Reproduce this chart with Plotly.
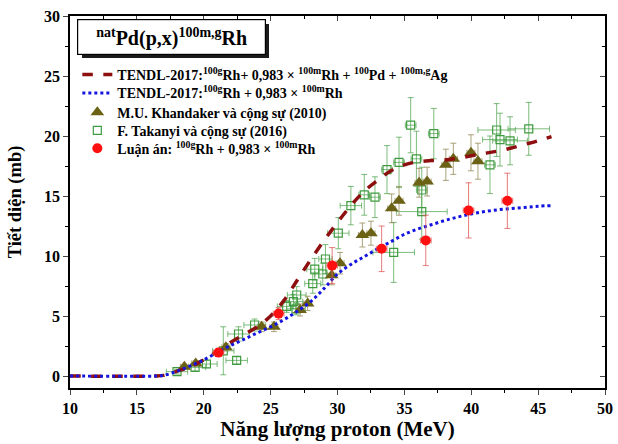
import plotly.graph_objects as go

# ---------------- data ----------------
tendl_all_E = [10, 16.5, 17, 17.5, 18, 18.7, 19, 20, 21, 22, 23, 24, 25, 26, 27, 28, 29, 30, 31, 32,
               33, 34, 35, 36, 37, 38, 39, 40, 41, 42, 43, 44, 45, 46]
tendl_all_s = [0, 0, 0.05, 0.2, 0.4, 0.65, 0.8, 1.35, 2.05, 2.8, 3.45, 4.1, 5.0, 6.3, 8.0, 9.7, 11.3,
               12.8, 14.2, 15.4, 16.3, 17.1, 17.6, 17.85, 17.95, 18.0, 18.15, 18.35, 18.55, 18.75,
               19.0, 19.3, 19.6, 19.95]

tendl_rh_E = [10, 16.5, 17, 18, 19, 20, 21, 22, 23, 24, 25, 26, 27, 28, 29, 30, 31, 32, 33, 34, 35,
              36, 37, 38, 39, 40, 41, 42, 43, 44, 45, 46]
tendl_rh_s = [0, 0, 0.05, 0.4, 0.85, 1.35, 1.95, 2.55, 3.05, 3.6, 4.1, 4.7, 5.4, 6.2, 7.3, 8.5, 9.3,
              9.95, 10.6, 11.2, 11.8, 12.25, 12.6, 12.95, 13.25, 13.5, 13.7, 13.85, 13.95, 14.05,
              14.15, 14.2]

khand_E = [18.55, 19.4, 21.66, 24.33, 25.25, 27.2, 27.77, 29.57, 30.19, 31.86, 32.5, 34.05, 34.6,
           36.1, 36.7, 38.1, 38.66, 39.98, 40.5]
khand_s = [0.78, 1.05, 2.4, 4.1, 4.1, 5.5, 6.05, 8.4, 9.4, 11.75, 11.9, 13.97, 14.6, 16.1, 16.2,
           17.6, 18.1, 18.6, 17.9]
khand_dE = [0.3] * 19
khand_ds = [0.15, 0.2, 0.3, 0.4, 0.4, 0.5, 0.6, 0.8, 0.9, 1.0, 1.0, 1.2, 1.2, 1.2, 1.2, 1.3, 1.3, 1.5, 1.5]

takanyi_E = [18.0, 19.35, 20.2, 21.46, 22.46, 22.6, 23.8, 26.2, 26.9, 26.7, 26.95, 28.15, 28.9, 28.3,
             29.1, 30.06, 31.0, 32.0, 32.8, 33.7, 34.6, 34.2, 35.47, 35.9, 36.3, 36.3, 37.2, 41.4,
             41.9, 42.15, 42.9, 44.3]
takanyi_s = [0.36, 0.72, 1.0, 2.1, 1.3, 3.5, 4.25, 5.8, 5.6, 6.2, 6.75, 7.7, 8.5, 8.9, 9.75, 11.9,
             14.2, 15.1, 14.9, 17.2, 17.8, 10.3, 20.9, 18.1, 15.5, 13.7, 20.2, 17.6, 20.5, 19.7,
             19.6, 20.6]
takanyi_dE = [0.8, 0.8, 0.8, 0.8, 0.8, 0.8, 0.8, 0.7, 0.7, 0.7, 0.7, 0.6, 0.6, 0.6, 0.5, 0.8, 0.8,
              0.4, 0.4, 0.4, 0.4, 1.55, 0.4, 0.4, 0.4, 1.9, 0.4, 0.4, 1.4, 1.3, 1.3, 1.55]
takanyi_ds = [0.2, 0.3, 0.3, 2.0, 0.3, 0.6, 0.5, 0.5, 0.5, 0.6, 0.7, 0.8, 0.9, 0.9, 1.2, 1.3, 1.6,
              1.7, 1.7, 2.0, 2.1, 2.5, 2.3, 2.3, 1.9, 2.3, 2.1, 2.4, 2.2, 2.2, 2.0, 2.2]

luanan_E = [21.1, 25.6, 29.6, 33.3, 36.6, 39.8, 42.7]
luanan_s = [1.95, 5.2, 9.2, 10.6, 11.3, 13.8, 14.6]
luanan_dE = [0.4] * 7
luanan_ds = [0.3, 0.5, 1.5, 1.9, 2.1, 2.3, 2.3]

x_ticks = [10, 15, 20, 25, 30, 35, 40, 45, 50]
y_ticks = [0, 5, 10, 15, 20, 25, 30]

FONT = "Liberation Serif"

fig = go.Figure()

fig.add_trace(go.Scatter(
    x=takanyi_E, y=takanyi_s, mode="markers", name="F. Takanyi và cộng sự (2016)",
    marker=dict(symbol="square-open", size=8, color="#3f9b3f", line=dict(width=1.2)),
    error_x=dict(type="data", array=takanyi_dE, color="rgba(70,160,70,0.7)", thickness=1, width=3),
    error_y=dict(type="data", array=takanyi_ds, color="rgba(70,160,70,0.7)", thickness=1, width=3),
    legend="legend4"))

fig.add_trace(go.Scatter(
    x=khand_E, y=khand_s, mode="markers", name="M.U. Khandaker và cộng sự (2010)",
    marker=dict(symbol="triangle-up", size=12, color="#6b6216"),
    error_x=dict(type="data", array=khand_dE, color="rgba(150,140,90,0.8)", thickness=1, width=3),
    error_y=dict(type="data", array=khand_ds, color="rgba(150,140,90,0.8)", thickness=1, width=3),
    legend="legend3"))

fig.add_trace(go.Scatter(
    x=tendl_all_E, y=tendl_all_s, mode="lines", line_shape="spline",
    name="TENDL-2017:<sup>100g</sup>Rh+ 0,983 × <sup>100m</sup>Rh + <sup>100</sup>Pd + <sup>100m,g</sup>Ag",
    line=dict(color="#8e0f0f", width=3.5, dash="dash"), legend="legend"))

fig.add_trace(go.Scatter(
    x=tendl_rh_E, y=tendl_rh_s, mode="lines", line_shape="spline",
    name="TENDL-2017:<sup>100g</sup>Rh + 0,983 × <sup>100m</sup>Rh",
    line=dict(color="#1414e0", width=3, dash="dot"), legend="legend2"))

fig.add_trace(go.Scatter(
    x=luanan_E, y=luanan_s, mode="markers",
    name="Luận án: <sup>100g</sup>Rh + 0,983 × <sup>100m</sup>Rh",
    marker=dict(symbol="circle", size=10, color="#ff0f0f"),
    error_x=dict(type="data", array=luanan_dE, color="rgba(225,90,90,0.8)", thickness=1, width=3),
    error_y=dict(type="data", array=luanan_ds, color="rgba(225,90,90,0.8)", thickness=1, width=3),
    legend="legend5"))

# dummy trace for mirrored (inward-tick) top/right axes
fig.add_trace(go.Scatter(x=[], y=[], xaxis="x2", yaxis="y2", showlegend=False, hoverinfo="skip"))

tickfont = dict(family=FONT, size=16, color="black", weight="bold")
legfont = dict(family=FONT, size=14, color="black", weight="bold")
leg_x = 0.0137
row_y = [0.8414, 0.7922, 0.740, 0.6916, 0.6433]


def leg(y):
    return dict(x=leg_x, y=y, xanchor="left", yanchor="middle", bgcolor="rgba(0,0,0,0)",
                font=legfont, itemwidth=30, borderwidth=0)


fig.update_layout(
    width=618, height=444,
    margin=dict(l=70, r=13, t=16, b=56, autoexpand=False),
    paper_bgcolor="white", plot_bgcolor="white",
    font=dict(family=FONT, color="black"),
    xaxis=dict(range=[10, 50], tickvals=x_ticks, ticks="outside", ticklen=5, tickwidth=1.2,
               showline=True, linecolor="black", linewidth=1.5, showgrid=False, zeroline=False,
               tickfont=tickfont, automargin=False,
               minor=dict(ticks="outside", ticklen=3, dtick=2.5, tickcolor="black", showgrid=False),
               title=dict(text="Năng lượng proton (MeV)", font=dict(family=FONT, size=21, weight="bold"),
                          standoff=0)),
    yaxis=dict(range=[-1, 30], tickvals=y_ticks, ticks="outside", ticklen=5, tickwidth=1.2,
               showline=True, linecolor="black", linewidth=1.5, showgrid=False, zeroline=False,
               tickfont=tickfont, automargin=False,
               minor=dict(ticks="outside", ticklen=3, dtick=2.5, tickcolor="black", showgrid=False),
               title=dict(text="Tiết diện (mb)", font=dict(family=FONT, size=18.5, weight="bold"),
                          standoff=18)),
    xaxis2=dict(range=[10, 50], overlaying="x", side="top", anchor="y2", tickvals=x_ticks,
                ticks="inside", ticklen=5, showticklabels=False, showline=True, linecolor="black",
                linewidth=1.5, showgrid=False, zeroline=False, automargin=False,
                minor=dict(ticks="inside", ticklen=3, dtick=2.5, tickcolor="black", showgrid=False)),
    yaxis2=dict(range=[-1, 30], overlaying="y", side="right", anchor="x2", tickvals=y_ticks,
                ticks="inside", ticklen=5, showticklabels=False, showline=True, linecolor="black",
                linewidth=1.5, showgrid=False, zeroline=False, automargin=False,
                minor=dict(ticks="inside", ticklen=3, dtick=2.5, tickcolor="black", showgrid=False)),
    legend=leg(row_y[0]), legend2=leg(row_y[1]), legend3=leg(row_y[2]),
    legend4=leg(row_y[3]), legend5=leg(row_y[4]),
    showlegend=True,
)

# title box with drop shadow
bx, by = 0.0125, 0.9927
fig.add_annotation(xref="paper", yref="paper", x=bx + 5 / 535, y=by - 5 / 372, xanchor="left",
                   yanchor="top", text=" ", showarrow=False, width=185, height=32,
                   bgcolor="#1a1a1a", borderwidth=0)
fig.add_annotation(xref="paper", yref="paper", x=bx, y=by, xanchor="left", yanchor="top",
                   text="<sup>nat</sup>Pd(p,x)<sup>100m,g</sup>Rh", showarrow=False, width=185, height=32,
                   bgcolor="white", bordercolor="black", borderwidth=1.2,
                   font=dict(family=FONT, size=20, color="black", weight="bold"))

fig.write_html("out.html", post_script="document.body.style.margin='0px';",
               config={"displayModeBar": False})
